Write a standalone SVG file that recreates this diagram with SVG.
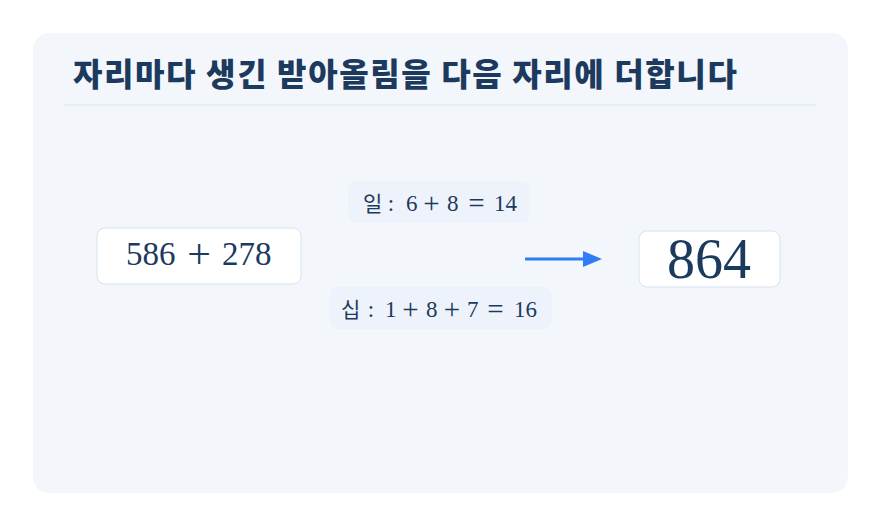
<svg xmlns="http://www.w3.org/2000/svg" width="881" height="526" viewBox="0 0 881 526">
<style>
.math{font-family:"Liberation Serif","DejaVu Serif",serif;fill:#1c3a5e}
.ko{font-family:"Noto Sans CJK KR","Noto Sans",sans-serif;fill:#1c3a5e}
.box{fill:#ffffff;stroke:#d6e2ef;stroke-width:1}
.lbg{fill:#eef3fb}
.c{text-anchor:middle}
.op{font-size:29px}
</style>
<rect width="881" height="526" fill="#ffffff"/>
<rect x="33" y="33" width="815" height="460" rx="16" fill="#f3f7fc"/>
<text x="73" y="86" class="ko" font-size="32" font-weight="800" letter-spacing="1.6" fill="#1a3a5c">자리마다 생긴 받아올림을 다음 자리에 더합니다</text>
<line x1="64" y1="105" x2="816" y2="105" stroke="#d8e2ec" stroke-width="1"/>
<g id="connectors">
<line x1="525" y1="259" x2="585" y2="259" stroke="#2f7cf6" stroke-width="3"/>
<path d="M583,251 L602,259 L583,267 Z" fill="#2f7cf6"/>
</g>
<g id="label-il">
<rect x="348" y="181" width="182" height="42" rx="8" class="lbg"/>
<text x="363" y="211" class="ko" font-size="21">일</text>
<g class="math" font-size="23">
<text x="391" y="211" class="c">:</text>
<text x="406" y="211">6</text>
<text x="431.5" y="213" class="c op">+</text>
<text x="447" y="211">8</text>
<text x="476.5" y="213" class="c op">=</text>
<text x="494" y="211">14</text>
</g>
</g>
<g id="label-sip">
<rect x="330" y="287" width="222" height="42" rx="8" class="lbg"/>
<text x="341" y="317" class="ko" font-size="21">십</text>
<g class="math" font-size="23">
<text x="371" y="317" class="c">:</text>
<text x="385" y="317">1</text>
<text x="410.5" y="319" class="c op">+</text>
<text x="426" y="317">8</text>
<text x="452" y="319" class="c op">+</text>
<text x="467" y="317">7</text>
<text x="495.5" y="319" class="c op">=</text>
<text x="514" y="317">16</text>
</g>
</g>
<g id="node-left">
<rect x="97" y="228" width="204" height="56" rx="8" class="box"/>
<g class="math" font-size="33">
<text x="126" y="265">586</text>
<text x="199" y="268" class="c" font-size="42">+</text>
<text x="222" y="265">278</text>
</g>
</g>
<g id="node-right">
<rect x="639" y="231" width="141" height="56" rx="8" class="box"/>
<text x="709" y="278" class="math c" font-size="56">864</text>
</g>
</svg>
